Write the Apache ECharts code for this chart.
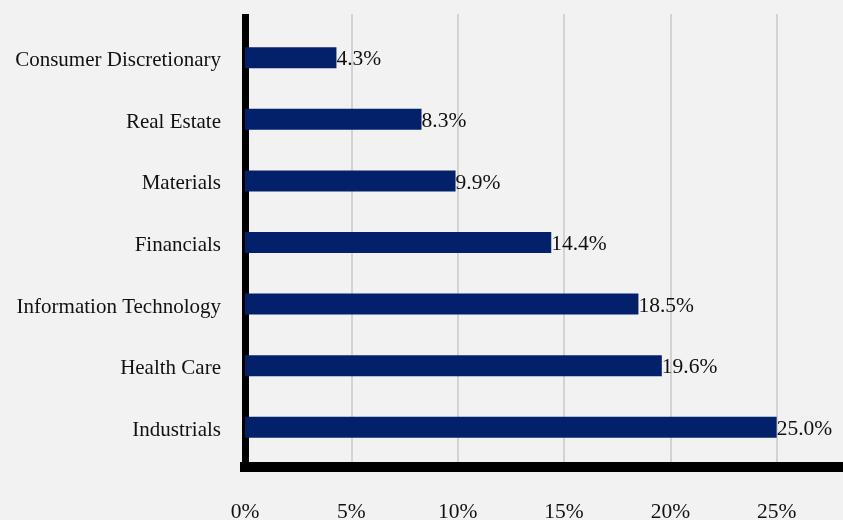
<!DOCTYPE html>
<html>
<head>
<meta charset="utf-8">
<script src="https://cdn.jsdelivr.net/npm/echarts@6/dist/echarts.min.js"></script>
<style>
html,body{margin:0;padding:0;background:#f2f2f2;}
#c{width:843px;height:520px;}
</style>
</head>
<body>
<div id="c"></div>
<script>
const categories = ['Consumer Discretionary','Real Estate','Materials','Financials','Information Technology','Health Care','Industrials'];
const values = [4.3, 8.3, 9.9, 14.4, 18.5, 19.6, 25.0];
const xMin = 0, xMax = 30, xStep = 5;

const font = '"Liberation Serif", "Times New Roman", serif';
const chart = echarts.init(document.getElementById('c'));
chart.setOption({
  backgroundColor: '#f2f2f2',
  animation: false,
  grid: [
    {left: 245, right: -40, top: 14, bottom: 53, containLabel: false, outerBoundsMode: 'none'},
    {left: 245, right: -40, top: 27, bottom: 62, containLabel: false, outerBoundsMode: 'none'}
  ],
  xAxis: [
    {
      type: 'value', gridIndex: 0, min: xMin, max: xMax, interval: xStep,
      offset: 5,
      axisLine: {show: true, lineStyle: {color: '#000', width: 10, cap: 'square'}},
      axisTick: {show: false},
      axisLabel: {formatter: v => v + '%', color: '#111', fontFamily: font, fontSize: 21.5, margin: 29},
      splitLine: {show: true, lineStyle: {color: '#c8c8c8', width: 1.5}}
    },
    {
      type: 'value', gridIndex: 1, min: xMin, max: xMax, interval: xStep,
      show: false, splitLine: {show: false}
    }
  ],
  yAxis: [
    {
      type: 'value', gridIndex: 0, offset: 1.5,
      axisLine: {show: true, lineStyle: {color: '#000', width: 7, cap: 'butt'}},
      axisTick: {show: false}, axisLabel: {show: false}, splitLine: {show: false}
    },
    {
      type: 'category', gridIndex: 1, data: categories, inverse: true,
      axisLine: {show: false}, axisTick: {show: false},
      axisLabel: {
        formatter: v => '{a|' + v + '}',
        margin: 24,
        rich: {a: {color: '#111', fontFamily: font, fontSize: 21, padding: [6, 0, 0, 0]}}
      }
    }
  ],
  series: [{
    type: 'bar', xAxisIndex: 1, yAxisIndex: 1, data: values, barWidth: 21,
    itemStyle: {color: '#03206b'},
    label: {show: true, position: 'right', distance: 0, offset: [0, 2], formatter: p => p.value.toFixed(1) + '%',
      color: '#111', fontFamily: font, fontSize: 21.5}
  }]
});
</script>
</body>
</html>
